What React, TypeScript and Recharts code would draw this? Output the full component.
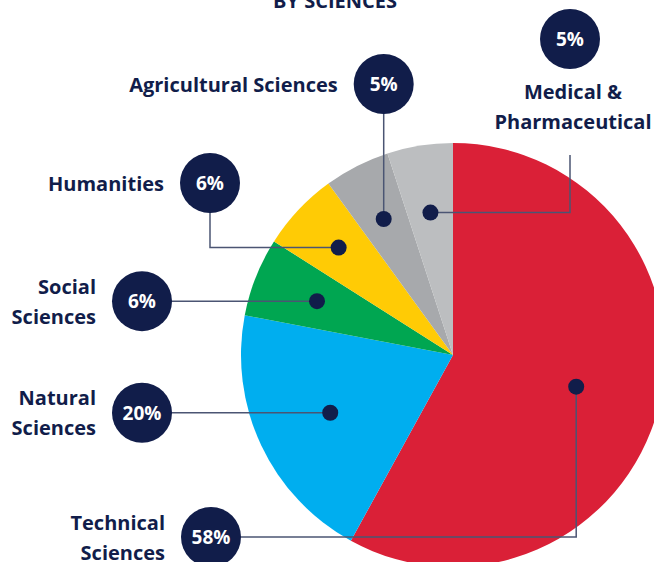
import { PieChart, Pie, Cell } from "recharts";

const categories = [
  "Technical Sciences",
  "Natural Sciences",
  "Social Sciences",
  "Humanities",
  "Agricultural Sciences",
  "Medical & Pharmaceutical",
];
const shares = [58, 20, 6, 6, 5, 5];
const colors = ["#da2037", "#00aeef", "#00a651", "#ffcb05", "#a7a9ac", "#bcbec0"];
const labelLines = [
  ["Technical", "Sciences"],
  ["Natural", "Sciences"],
  ["Social", "Sciences"],
  ["Humanities"],
  ["Agricultural Sciences"],
  ["Medical &", "Pharmaceutical"],
];

const NAVY = "#111d4a";
const LINE = "#4b5573";
const FONT = "'Open Sans', 'Noto Sans', sans-serif";

// callout layout: how the leader goes from the dot to the badge
type Callout = {
  mode: "h" | "v" | "vh" | "hv";
  bx: number;
  by: number;
  dotR: number;
  lineEndY?: number;
  text: "left" | "below";
};
const callouts: Callout[] = [
  { mode: "vh", bx: 211, by: 537, dotR: 0.6, text: "left" },
  { mode: "h", bx: 142, by: 0, dotR: 0.64, text: "left" },
  { mode: "h", bx: 142, by: 0, dotR: 0.69, text: "left" },
  { mode: "hv", bx: 210, by: 183, dotR: 0.74, text: "left" },
  { mode: "v", bx: 0, by: 84, dotR: 0.72, text: "left" },
  { mode: "hv", bx: 570, by: 39, dotR: 0.68, lineEndY: 155, text: "below" },
];

const data = categories.map((name, i) => ({ name, value: shares[i] }));

const RAD = Math.PI / 180;

function renderCallout(props: any) {
  const { cx, cy, midAngle, outerRadius, index, value } = props;
  const c = callouts[index];
  const r = outerRadius * c.dotR;
  const dx = cx + r * Math.cos(-midAngle * RAD);
  const dy = cy + r * Math.sin(-midAngle * RAD);

  let bx = c.bx;
  let by = c.by;
  let path = "";
  if (c.mode === "h") {
    by = dy;
    path = `M${dx},${dy}H${bx}`;
  } else if (c.mode === "v") {
    bx = dx;
    path = `M${dx},${dy}V${by}`;
  } else if (c.mode === "vh") {
    path = `M${dx},${dy}V${by}H${bx}`;
  } else {
    path = `M${dx},${dy}H${bx}V${c.lineEndY ?? by}`;
  }

  const lines = labelLines[index];
  const lh = 30;
  return (
    <g key={`callout-${index}`}>
      <path d={path} stroke={LINE} strokeWidth={1.5} fill="none" />
      <circle cx={dx} cy={dy} r={8} fill={NAVY} />
      <circle cx={bx} cy={by} r={30} fill={NAVY} />
      <text
        x={bx}
        y={by}
        textAnchor="middle"
        dominantBaseline="central"
        fill="#fff"
        fontSize={19}
        fontWeight={700}
        fontFamily={FONT}
      >
        {`${value}%`}
      </text>
      {lines.map((t, k) => {
        const tx = c.text === "left" ? bx - 46 : bx + 3;
        const ty =
          c.text === "left"
            ? by + (k - (lines.length - 1) / 2) * lh
            : by + 52 + k * lh;
        return (
          <text
            key={k}
            x={tx}
            y={ty}
            textAnchor={c.text === "left" ? "end" : "middle"}
            dominantBaseline="central"
            fill={NAVY}
            fontSize={20}
            fontWeight={700}
            fontFamily={FONT}
          >
            {t}
          </text>
        );
      })}
    </g>
  );
}

export default function App() {
  return (
    <div
      style={{
        position: "fixed",
        left: 0,
        top: 0,
        width: 654,
        height: 562,
        overflow: "hidden",
        background: "#fff",
      }}
    >
      <PieChart
        width={654}
        height={562}
        margin={{ top: 0, right: 0, bottom: 0, left: 0 }}
      >
        <text
          x={335}
          y={8}
          textAnchor="middle"
          fill={NAVY}
          fontSize={20}
          fontWeight={700}
          fontFamily={FONT}
        >
          BY SCIENCES
        </text>
        <Pie
          data={data}
          dataKey="value"
          nameKey="name"
          cx={453}
          cy={355}
          outerRadius={212}
          startAngle={90}
          endAngle={-270}
          stroke="none"
          labelLine={false}
          label={renderCallout}
          isAnimationActive={false}
        >
          {data.map((d, i) => (
            <Cell key={d.name} fill={colors[i]} />
          ))}
        </Pie>
      </PieChart>
    </div>
  );
}
